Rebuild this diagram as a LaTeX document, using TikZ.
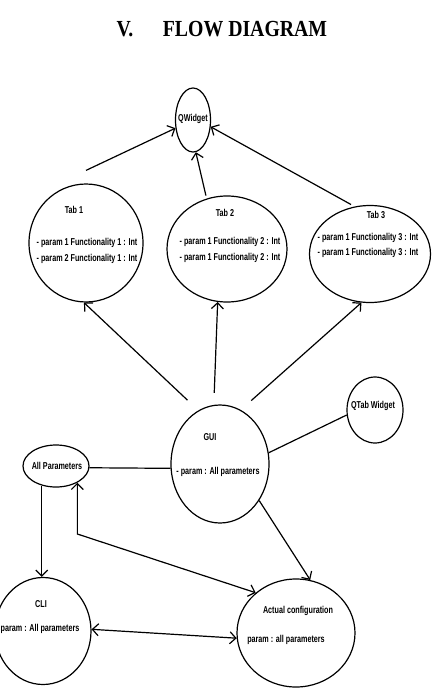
\documentclass[tikz,border=0pt]{standalone}
\usepackage{fontspec}
\newfontfamily\narrowfont[FakeStretch=0.72]{Liberation Sans}
\newfontfamily\headfont[FakeStretch=0.86]{Liberation Serif}
\usetikzlibrary{arrows.meta, positioning, shapes.geometric, calc}

\tikzset{
    bubble/.style={draw, ellipse, line width=1.2pt, inner sep=0pt},
    lbl/.style={font=\narrowfont\bfseries\fontsize{10}{12}\selectfont, inner sep=0pt},
    link/.style={line width=1.2pt},
    >={Straight Barb[length=6pt,width=12pt]}
}

\begin{document}
\begin{tikzpicture}[x=1pt, y=-1pt]
    \useasboundingbox (0,0) rectangle (434,698);
    % Tiêu đề
    \node[anchor=base, font=\headfont\bfseries\fontsize{23}{26}\selectfont] (secno) at (125,37) {V.};
    \node[anchor=base, font=\headfont\bfseries\fontsize{23}{26}\selectfont] (title) at (245,37) {FLOW DIAGRAM};

    % Các ellipse
    \node[bubble, minimum width=35pt, minimum height=64pt] (qw) at (193,120) {};
    \node[bubble, minimum width=114pt, minimum height=118pt] (tab1) at (86,243) {};
    \node[bubble, minimum width=120pt, minimum height=106pt] (tab2) at (227,249) {};
    \node[bubble, minimum width=121pt, minimum height=97pt] (tab3) at (370,254) {};
    \node[bubble, minimum width=98pt, minimum height=118pt] (gui) at (220,464) {};
    \node[bubble, minimum width=56pt, minimum height=66pt] (qtab) at (375,410) {};
    \node[bubble, minimum width=66pt, minimum height=42pt] (allp) at (56,466) {};
    \node[bubble, minimum width=96pt, minimum height=107pt] (cli) at (43,631) {};
    \node[bubble, minimum width=118pt, minimum height=108pt] (act) at (296,633) {};

    % Nhãn
    \node[lbl] (qwtxt) at (193,119) {QWidget};
    \node[lbl] (tab1ttl) at (74,210) {Tab 1};
    \node[lbl] (tab1a) at (87,243) {- param 1 Functionality 1 : Int};
    \node[lbl] (tab1b) at (87,259) {- param 2 Functionality 1 : Int};
    \node[lbl] (tab2ttl) at (225,213) {Tab 2};
    \node[lbl] (tab2a) at (230,242) {- param 1 Functionality 2 : Int};
    \node[lbl] (tab2b) at (230,258) {- param 1 Functionality 2 : Int};
    \node[lbl] (tab3ttl) at (376,215) {Tab 3};
    \node[lbl] (tab3a) at (368,238) {- param 1 Functionality 3 : Int};
    \node[lbl] (tab3b) at (368,253) {- param 1 Functionality 3 : Int};
    \node[lbl] (guittl) at (210,437) {GUI};
    \node[lbl] (guia) at (218,472) {- param : All parameters};
    \node[lbl] (qtabtxt) at (373,406) {QTab Widget};
    \node[lbl] (allptxt) at (57,466) {All Parameters};
    \node[lbl] (clittl) at (41,604) {CLI};
    \node[lbl] (clia) at (40,629) {param : All parameters};
    \node[lbl] (actttl) at (298,611) {Actual configuration};
    \node[lbl] (acta) at (286,640) {param : all parameters};

    % Các mũi tên
    \draw[link, ->] ([yshift=13pt]tab1.north) -- (qw.205);
    \draw[link, ->, shorten <=3pt] (tab2.112) -- (qw.-85);
    \draw[link, ->, shorten <=4pt] (tab3.108) -- (qw.-21);
    \draw[link, ->, shorten <=15pt] (gui.112) -- (tab1.-92);
    \draw[link, ->, shorten <=12pt] (gui.96) -- (tab2.-100);
    \draw[link, ->, shorten <=14pt] (gui.69) -- (tab3.-100);
    \draw[link] (gui.13) -- (qtab.190);
    \draw[link] (allp.-3) -- (gui.185);
    \draw[link, ->] (allp.234) -- (allp.234 |- cli.north);
    \draw[link, ->] (gui.-43) -- (act.75);
    \coordinate (bend) at (77,534);
    \draw[link, <->] (allp.-38) -- (allp.-38 |- bend) -- (act.135);
    \draw[link, <->] (cli.2) -- (act.185);
\end{tikzpicture}
\end{document}
